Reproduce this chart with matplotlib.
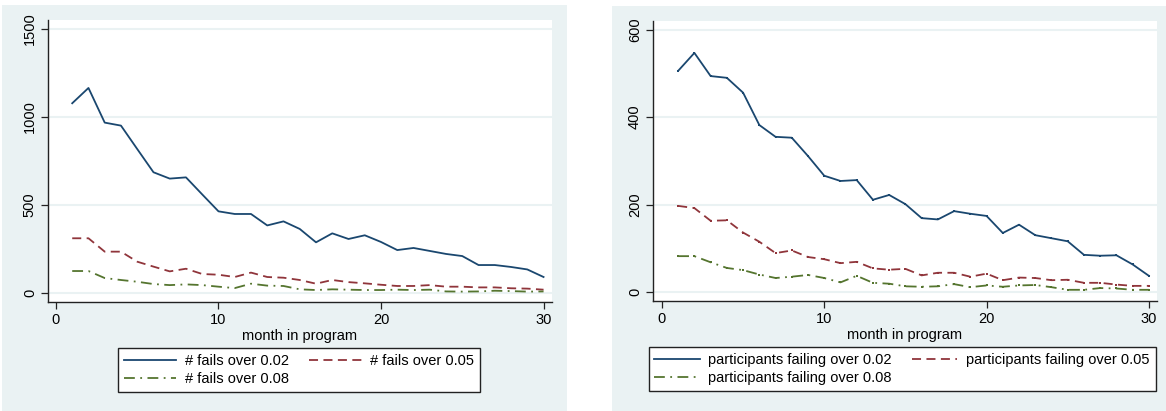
import matplotlib
matplotlib.use('Agg')
import matplotlib.pyplot as plt
from matplotlib.patches import Rectangle
from matplotlib.lines import Line2D

plt.rcParams['font.family'] = ['Liberation Sans', 'DejaVu Sans']

months = list(range(1, 31))

# number of failed tests per month, by threshold
fails_02 = [1078, 1165, 968, 951, 818, 686, 650, 657, 560, 464,
            449, 449, 384, 407, 364, 288, 339, 307, 328, 290,
            244, 256, 239, 222, 210, 159, 159, 148, 134, 91]
fails_05 = [311, 311, 235, 235, 178, 150, 123, 138, 108, 104,
            91, 116, 91, 87, 74, 53, 74, 62, 55, 47,
            40, 40, 45, 36, 36, 32, 32, 27, 25, 19]
fails_08 = [125, 125, 85, 74, 64, 51, 45, 49, 45, 36,
            28, 53, 42, 40, 21, 17, 21, 19, 17, 17,
            19, 17, 19, 9, 8, 9, 13, 11, 8, 9]

# number of participants failing per month, by threshold
part_02 = [506, 547, 494, 490, 456, 382, 355, 353, 311, 266,
           254, 256, 211, 222, 201, 169, 166, 185, 179, 174,
           135, 154, 130, 123, 116, 85, 83, 84, 63, 37]
part_05 = [197, 192, 163, 164, 136, 115, 89, 95, 80, 75,
           66, 69, 54, 51, 53, 38, 44, 44, 35, 42,
           27, 33, 32, 27, 28, 21, 21, 17, 14, 14]
part_08 = [82, 82, 68, 55, 50, 40, 32, 35, 39, 32,
           22, 37, 21, 19, 13, 12, 13, 18, 11, 15,
           12, 15, 16, 11, 5, 5, 9, 8, 5, 5]

left_labels = ['# fails over 0.02', '# fails over 0.05', '# fails over 0.08']
right_labels = ['participants failing over 0.02',
                'participants failing over 0.05',
                'participants failing over 0.08']

navy = '#1a476f'
maroon = '#90353b'
green = '#55752f'
bg = '#eaf2f3'
styles = ['-', (0, (5, 3)), (0, (6, 3, 1, 3))]
colors = [navy, maroon, green]

W, H = 1166, 411
fig = plt.figure(figsize=(W / 100, H / 100), dpi=100)

def px(x0, y0, x1, y1):
    return [x0 / W, 1 - y1 / H, (x1 - x0) / W, (y1 - y0) / H]

# panel backgrounds
fig.patches.append(Rectangle((2 / W, 0), 565 / W, 1 - 5 / H, transform=fig.transFigure,
                             facecolor=bg, edgecolor='none', zorder=-5))
fig.patches.append(Rectangle((612 / W, 0), 554 / W, 1 - 6 / H, transform=fig.transFigure,
                             facecolor=bg, edgecolor='none', zorder=-5))

def panel(rect, series, labels, xlim, ylim, yticks, markers, leg_center, hlen):
    ax = fig.add_axes(rect)
    ax.set_zorder(2)
    ax.set_facecolor('white')
    for vals, c, ls in zip(series, colors, styles):
        if markers:
            ax.plot(months, vals, color=c, linestyle=ls, linewidth=1.3,
                    marker='s', markersize=1.8, markeredgewidth=0)
        else:
            ax.plot(months, vals, color=c, linestyle=ls, linewidth=1.3)
    ax.set_xlim(*xlim)
    ax.set_ylim(*ylim)
    ax.set_xticks([0, 10, 20, 30])
    ax.set_yticks(yticks)
    ax.set_yticklabels([str(t) for t in yticks], rotation=90, va='center')
    ax.grid(axis='y', color=bg, linewidth=1.5)
    ax.set_axisbelow(True)
    for s in ['top', 'right']:
        ax.spines[s].set_visible(False)
    for s in ['left', 'bottom']:
        ax.spines[s].set_color('#222222')
        ax.spines[s].set_linewidth(1.0)
    ax.tick_params(direction='out', length=5, width=0.9, color='#222222',
                   labelsize=10.5, pad=3)
    ax.set_xlabel('month in program', fontsize=10.5, labelpad=1)

    # legend keys show line style only, filled row by row
    keys = [Line2D([], [], color=c, linestyle=ls, linewidth=1.3)
            for c, ls in zip(colors, styles)]
    order = [0, 2, 1]
    leg = fig.legend([keys[i] for i in order], [labels[i] for i in order],
                     ncol=2, loc='center', bbox_to_anchor=leg_center,
                     bbox_transform=fig.transFigure, fontsize=10.5, frameon=True,
                     fancybox=False, edgecolor='#222222', framealpha=1,
                     handlelength=hlen, handletextpad=0.6, columnspacing=1.4,
                     labelspacing=0.25, borderpad=0.4, borderaxespad=0)
    leg.get_frame().set_linewidth(1.0)
    leg.set_zorder(3)
    return ax

panel(px(48, 20, 552, 302), [fails_02, fails_05, fails_08], left_labels,
      (-0.49, 30.52), (-51, 1551), [0, 500, 1000, 1500], False,
      (299 / W, 1 - 370 / H), 3.6)
panel(px(653, 21, 1157, 301), [part_02, part_05, part_08], right_labels,
      (-0.55, 30.5), (-20.6, 620), [0, 200, 400, 600], True,
      (902 / W, 1 - 369 / H), 3.1)

fig.savefig('out.png', dpi=100)
